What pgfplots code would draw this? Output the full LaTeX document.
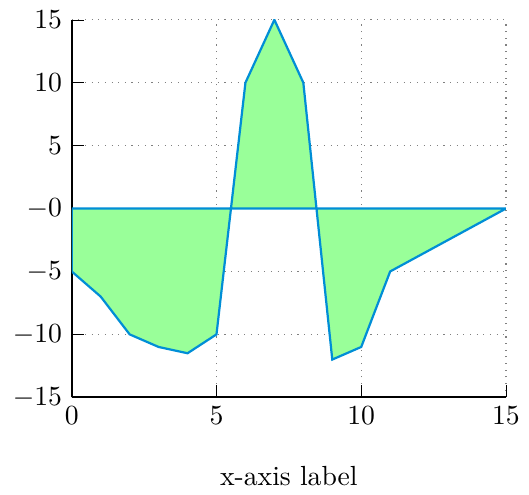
\documentclass[border={1.3pt 0pt 0pt 0.6pt}]{standalone}
\usepackage{pgfplots}
\pgfplotsset{compat=1.18}
\definecolor{fillgreen}{RGB}{153,255,153}
\definecolor{lineblue}{RGB}{0,142,214}
\begin{document}
\begin{tikzpicture}
\begin{axis}[
  scale only axis,
  width=157pt, height=136.5pt,
  xmin=0, xmax=15, ymin=-15, ymax=15,
  axis x line*=bottom, axis y line*=left,
  axis line style={-, black, line width=0.6pt},
  xtick={0,5,10,15},
  ytick={-15,-10,-5,0,5,10,15},
  yticklabels={$-15$,$-10$,$-5$,$-0$,$5$,$10$,$15$},
  grid=major,
  major grid style={dotted, gray, line width=0.5pt},
  xlabel={x-axis label},
  xlabel style={yshift=-8pt},
  tick style={black},
]
\addplot[fill=fillgreen, draw=lineblue, line width=0.8pt] coordinates {
  (0,0) (0,-5) (1,-7) (2,-10) (3,-11) (4,-11.5) (5,-10) (6,10) (7,15) (8,10)
  (9,-12) (10,-11) (11,-5) (15,0)
} -- cycle;
\end{axis}
\end{tikzpicture}
\end{document}
